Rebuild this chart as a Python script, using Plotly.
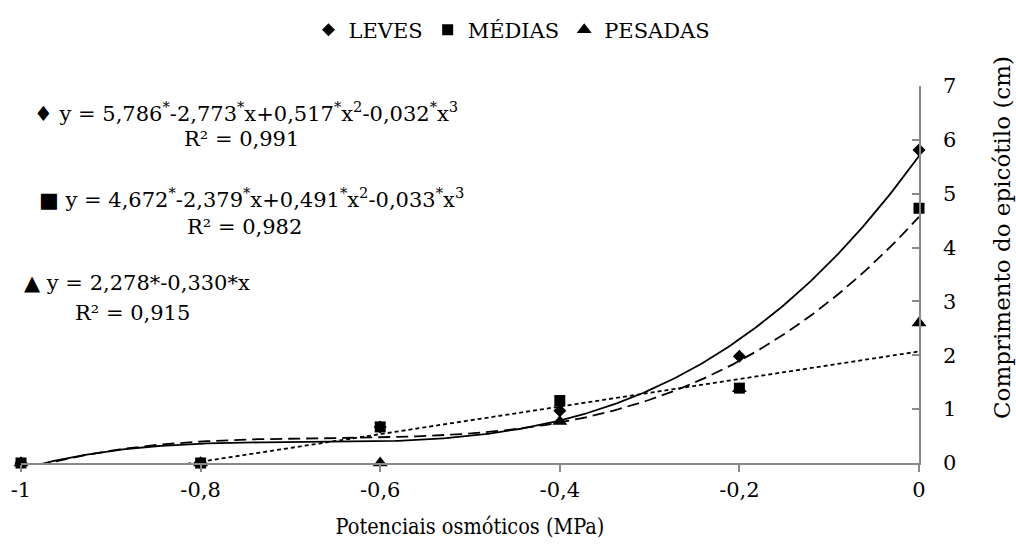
import numpy as np
import plotly.graph_objects as go

# ---- data ----
potenciais = [-1.0, -0.8, -0.6, -0.4, -0.2, 0.0]
leves = [0.0, 0.0, 0.67, 0.97, 1.98, 5.81]
medias = [0.0, 0.0, 0.67, 1.16, 1.39, 4.73]
pesadas = [0.0, 0.0, 0.0, 0.77, 1.38, 2.60]

x_ticks = [-1.0, -0.8, -0.6, -0.4, -0.2, 0.0]
x_tick_labels = ["-1", "-0,8", "-0,6", "-0,4", "-0,2", "0"]
y_ticks = [0, 1, 2, 3, 4, 5, 6, 7]
y_tick_labels = ["0", "1", "2", "3", "4", "5", "6", "7"]

eq_texts = [
    "♦ y = 5,786<sup>*</sup>-2,773<sup>*</sup>x+0,517<sup>*</sup>x<sup>2</sup>-0,032<sup>*</sup>x<sup>3</sup>",
    "■ y = 4,672<sup>*</sup>-2,379<sup>*</sup>x+0,491<sup>*</sup>x<sup>2</sup>-0,033<sup>*</sup>x<sup>3</sup>",
    "▲ y = 2,278*-0,330*x",
]
r2_texts = ["R² = 0,991", "R² = 0,982", "R² = 0,915"]

FONT = "DejaVu Serif"
FONT_COND = "DejaVu Serif Condensed"
FS = 21

# trend lines (least squares fits, like the spreadsheet trendlines)
xd = np.linspace(-1.0, 0.0, 301)
fit_leves = np.polyval(np.polyfit(potenciais, leves, 3), xd)
fit_medias = np.polyval(np.polyfit(potenciais, medias, 3), xd)
fit_pesadas = np.polyval(np.polyfit(potenciais, pesadas, 1), xd)

fig = go.Figure()
fig.add_trace(go.Scatter(x=xd, y=fit_leves, mode="lines", showlegend=False, hoverinfo="skip",
                         line=dict(color="black", width=1.8)))
fig.add_trace(go.Scatter(x=xd, y=fit_medias, mode="lines", showlegend=False, hoverinfo="skip",
                         line=dict(color="black", width=1.8, dash="12px,6px")))
fig.add_trace(go.Scatter(x=xd, y=fit_pesadas, mode="lines", showlegend=False, hoverinfo="skip",
                         line=dict(color="black", width=1.8, dash="4px,3px")))

fig.add_trace(go.Scatter(x=potenciais, y=leves, mode="markers", name="LEVES", legendrank=1,
                         cliponaxis=False,
                         marker=dict(symbol="diamond", size=10, color="black")))
fig.add_trace(go.Scatter(x=potenciais, y=pesadas, mode="markers", name="PESADAS", legendrank=3,
                         cliponaxis=False,
                         marker=dict(symbol="triangle-up", size=13, color="black")))
fig.add_trace(go.Scatter(x=potenciais, y=medias, mode="markers", name="MÉDIAS", legendrank=2,
                         cliponaxis=False,
                         marker=dict(symbol="square", size=11, color="black")))

L, R, T, B = 21, 97, 86, 82
W, H = 1016, 545
pw, ph = W - L - R, H - T - B


def px(xp):
    return (xp - L) / pw


def py(yp):
    return (H - B - yp) / ph


tf = dict(family=FONT, size=FS, color="black")
ann = []
eq_pos = [(246, 112), (252, 198), (137, 283)]
r2_pos = [(241, 139), (244, 227), (132, 313)]
for t, (x0, y0) in zip(eq_texts, eq_pos):
    ann.append(dict(text=t, x=px(x0), y=py(y0), xref="paper", yref="paper", showarrow=False,
                    xanchor="center", yanchor="middle", font=tf))
for t, (x0, y0) in zip(r2_texts, r2_pos):
    ann.append(dict(text=t, x=px(x0), y=py(y0), xref="paper", yref="paper", showarrow=False,
                    xanchor="center", yanchor="middle", font=tf))
ann.append(dict(text="Comprimento do epicótilo (cm)", x=px(1002), y=py(237), xref="paper", yref="paper",
                showarrow=False, textangle=-90, xanchor="center", yanchor="middle",
                font=dict(family=FONT, size=23, color="black")))

fig.update_layout(
    width=W, height=H,
    margin=dict(l=L, r=R, t=T, b=B, autoexpand=False),
    paper_bgcolor="white", plot_bgcolor="white",
    font=tf,
    showlegend=True,
    legend=dict(orientation="h", x=px(512), xanchor="center", y=py(30), yanchor="middle",
                font=tf, itemwidth=30, bgcolor="rgba(0,0,0,0)"),
    annotations=ann,
    xaxis=dict(range=[-1, 0], tickvals=x_ticks, ticktext=x_tick_labels,
               showgrid=False, zeroline=False, showline=True, linecolor="#898989", linewidth=1.5,
               ticks="outside", ticklen=7, tickcolor="#898989", tickwidth=1.5,
               tickfont=tf,
               title=dict(text="Potenciais osmóticos (MPa)",
                          font=dict(family=FONT_COND, size=21.5, color="black"), standoff=18),
               fixedrange=True),
    yaxis=dict(range=[0, 7], tickvals=y_ticks, ticktext=y_tick_labels, side="right",
               showgrid=False, zeroline=False, showline=True, linecolor="#898989", linewidth=1.5,
               ticks="inside", ticklen=7, tickcolor="#898989", tickwidth=1.5,
               ticklabelstandoff=18, tickfont=tf,
               fixedrange=True),
)

fig.write_html("out.html")
